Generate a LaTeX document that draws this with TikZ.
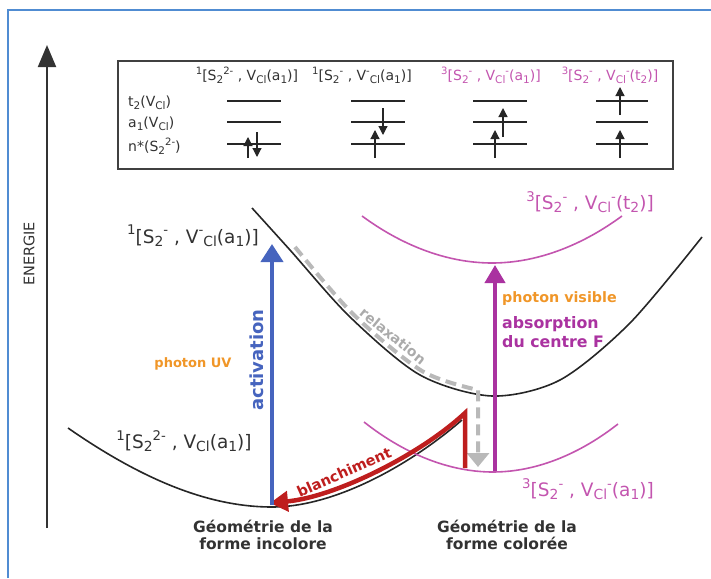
\documentclass[tikz,border=0pt]{standalone}
\usepackage{fontspec}
\setmainfont{DejaVu Sans}
\usetikzlibrary{arrows.meta}
\definecolor{frameblue}{RGB}{80,140,210}
\definecolor{darktext}{RGB}{50,50,50}
\definecolor{mag}{RGB}{195,85,175}
\definecolor{magarrow}{RGB}{170,50,160}
\definecolor{orangetxt}{RGB}{240,150,40}
\definecolor{bluearr}{RGB}{70,100,190}
\definecolor{redarr}{RGB}{190,30,30}
\definecolor{relgray}{RGB}{185,185,185}
\newcommand{\fs}[1]{\fontsize{#1}{#1}\selectfont}
\newcommand{\dn}[1]{\raisebox{-0.35ex}{\scalebox{0.75}{#1}}}
\newcommand{\up}[1]{\raisebox{0.8ex}{\scalebox{0.72}{#1}}}
\begin{document}
\begin{tikzpicture}[x=1pt,y=-1pt,
  curve/.style={line width=1.6pt,black!85},
  magcurve/.style={line width=1.6pt,mag},
  level/.style={line width=2.5pt,black!85},
  spin/.style={line width=1.2pt,black!85,-{Triangle[length=9pt,width=9pt]}},
  hdr/.style={font=\fs{14},inner sep=0pt},
  rowlab/.style={font=\fs{14},inner sep=0pt,anchor=west,text=darktext},
  biglab/.style={font=\fs{18.5},inner sep=0pt,text=darktext},
  geo/.style={font=\bfseries\fs{15.5},align=center,inner sep=0pt,text=darktext}]
\useasboundingbox (0,0) rectangle (711,578);
% frame
\draw[frameblue,line width=1.2pt] (8,578) -- (8,10) -- (711,10);
% energy axis
\coordinate (ebot) at (47,528);
\coordinate (etop) at (47,45);
\draw[line width=2pt,black!80,-{Triangle[length=22pt,width=18pt]}] (ebot) -- (etop);
\node[rotate=90,font=\fs{14.5},text=darktext] (energie) at (29,254) {ENERGIE};
% box
\node[draw=black!75,line width=2.2pt,minimum width=555pt,minimum height=108pt,inner sep=0pt,anchor=north west] (box) at (117,60) {};
\node[hdr,text=darktext] (h1) at (247,75) {\up{1}[S\dn{2}\up{2-} , V\dn{Cl}(a\dn{1})]};
\node[hdr,text=darktext] (h2) at (362,75) {\up{1}[S\dn{2}\up{-} , V\up{-}\dn{Cl}(a\dn{1})]};
\node[hdr,text=mag] (h3) at (491,75) {\up{3}[S\dn{2}\up{-} , V\dn{Cl}\up{-}(a\dn{1})]};
\node[hdr,text=mag] (h4) at (610,75) {\up{3}[S\dn{2}\up{-} , V\dn{Cl}\up{-}(t\dn{2})]};
\node[rowlab] (rt) at (128,103) {t\dn{2}(V\dn{Cl})};
\node[rowlab] (ra) at (128,124) {a\dn{1}(V\dn{Cl})};
\node[rowlab] (rn) at (128,146) {n*(S\dn{2}\up{2-})};
\foreach \cx/\hw in {254/27,378/27,500/27,622/26}{
  \foreach \ly in {101,122,144}{
    \draw[level] (\cx-\hw,\ly) -- (\cx+\hw,\ly);
  }
}
% spins
\draw[spin] (248,158) -- (248,137);
\draw[spin] (257,132) -- (257,157);
\draw[spin] (375,158) -- (375,130);
\draw[spin] (383,108) -- (383,135);
\draw[spin] (495,158) -- (495,130);
\draw[spin] (503,137) -- (503,108);
\draw[spin] (620,158) -- (620,130);
\draw[spin] (620,115) -- (620,87);
% curves
\draw[curve] (68,428) .. controls (150,485) and (215,507) .. (272,507) .. controls (335,507) and (410,465) .. (462,420);
\draw[curve] plot[smooth] coordinates {(252,208) (290,250) (350,317) (420,375) (492,396) (560,380) (630,323) (702,237)};
\draw[magcurve] (362,216) parabola bend (492,263) (622,216);
\draw[magcurve] (364,422) parabola bend (493,472) (618,424);
% relaxation
\coordinate (rl1) at (295,247);
\coordinate (rl2) at (478,390);
\coordinate (rlend) at (478,467);
\draw[relgray,line width=4pt,dash pattern=on 11pt off 6pt,-{Triangle[length=14pt,width=22pt]}]
  plot[smooth] coordinates {(rl1) (353,314) (422,371) (rl2)} -- (rlend);
\node[rotate=-39,font=\bfseries\fs{14},text=black!33] (relax) at (393,336) {relaxation};
% blanchiment
\coordinate (rbot) at (465,468);
\coordinate (rtop) at (465,413);
\coordinate (rtip) at (270,503);
\draw[redarr,line width=4.5pt,-{Triangle[length=18pt,width=20pt]}] (rbot) -- (rtop) .. controls (420,455) and (335,497) .. (rtip);
\node[rotate=24,font=\bfseries\fs{14.5},text=redarr] (blanc) at (344,472) {blanchiment};
% activation
\coordinate (gmin) at (272,505);
\coordinate (btip) at (272,244);
\draw[bluearr,line width=4pt,-{Triangle[length=18pt,width=22pt]}] (gmin) -- (btip);
\node[rotate=90,font=\bfseries\fs{18},text=bluearr] (act) at (257,360) {activation};
\node[font=\bfseries\fs{13},text=orangetxt] (puv) at (193,364) {photon UV};
% absorption
\coordinate (mbot) at (495,471);
\coordinate (mtip) at (495,265);
\draw[magarrow,line width=4pt,-{Triangle[length=18pt,width=20pt]}] (mbot) -- (mtip);
\node[font=\bfseries\fs{14.3},text=orangetxt,anchor=west,inner sep=0pt] (pvis) at (502,299) {photon visible};
\node[font=\bfseries\fs{15.8},text=magarrow,anchor=north west,align=left,inner sep=0pt] (absb) at (502,316) {absorption\\[3pt]du centre F};
% state labels
\node[biglab] (s1) at (193,236) {\up{1}[S\dn{2}\up{-} , V\up{-}\dn{Cl}(a\dn{1})]};
\node[biglab] (s0) at (184,441) {\up{1}[S\dn{2}\up{2-} , V\dn{Cl}(a\dn{1})]};
\node[biglab,text=mag] (t2) at (590,202) {\up{3}[S\dn{2}\up{-} , V\dn{Cl}\up{-}(t\dn{2})]};
\node[biglab,text=mag] (t1) at (588,489) {\up{3}[S\dn{2}\up{-} , V\dn{Cl}\up{-}(a\dn{1})]};
\node[geo] (g1) at (263,535) {Géométrie de la\\[2pt]forme incolore};
\node[geo] (g2) at (507,535) {Géométrie de la\\[2pt]forme colorée};
\end{tikzpicture}
\end{document}
